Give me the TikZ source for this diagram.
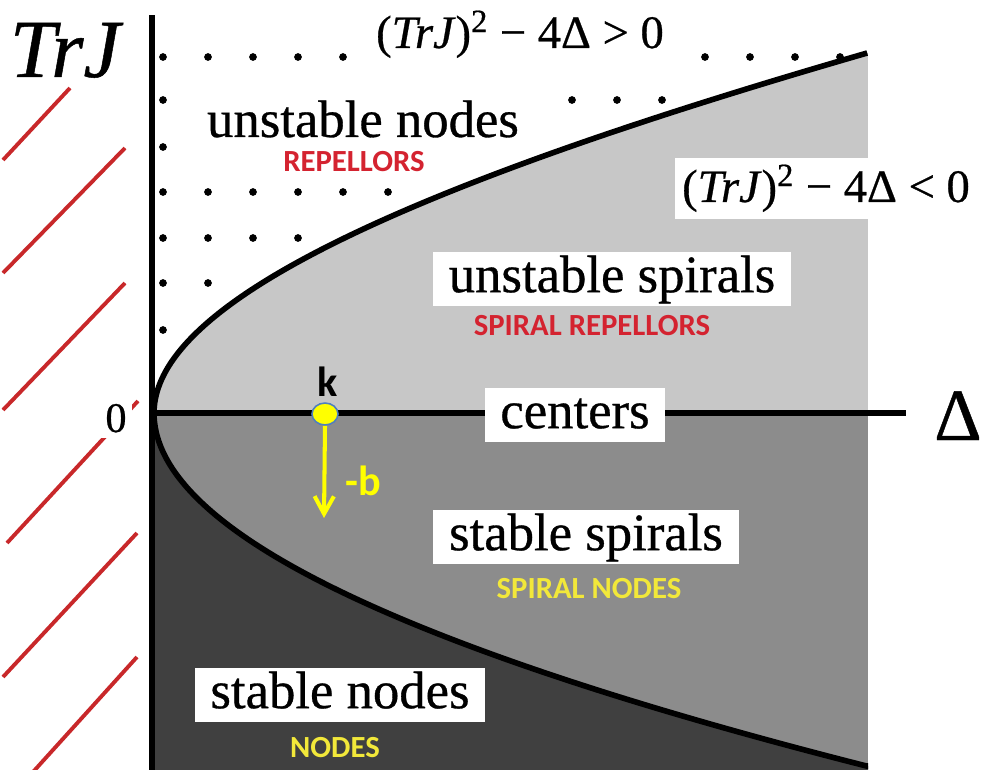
\documentclass[tikz,border=0pt]{standalone}
\usepackage{fontspec}
\setmainfont{Liberation Serif}[FakeBold=0.6]
\newfontfamily\capsfont{Carlito}
\usetikzlibrary{arrows.meta,shapes.geometric}
\definecolor{hatchred}{HTML}{C8282A}
\definecolor{repred}{HTML}{D42330}
\definecolor{nodeyellow}{HTML}{F2E83A}
\definecolor{kyellow}{HTML}{FFFF00}
\definecolor{kblue}{HTML}{4F7FBF}
\newcommand{\trjsq}{(\textit{TrJ})\textsuperscript{2}}
\tikzset{
  regionlbl/.style={fill=white,inner xsep=9pt,inner ysep=1pt,text height=21.6pt,text depth=6.6pt,font=\fontsize{30}{30}\selectfont},
  formlbl/.style={fill=white,inner sep=4pt,anchor=base,font=\fontsize{26.5}{26.5}\selectfont},
  capslbl/.style={anchor=base,inner sep=0pt,text height=11.5pt,text depth=0pt,font=\capsfont\bfseries\fontsize{17.5}{17.5}\selectfont},
  replbl/.style={capslbl,text=repred},
  attlbl/.style={capslbl,text=nodeyellow},
  klbl/.style={anchor=base,inner sep=0pt,font=\capsfont\bfseries\fontsize{24}{24}\selectfont},
  axisline/.style={line width=3.6pt,black},
  branch/.style={line width=3.2pt,black,line join=round},
  hatchline/.style={line width=2.2pt,hatchred},
  kdot/.style={ellipse,draw=kblue,fill=kyellow,line width=0.9pt,inner sep=0pt,minimum width=14.8pt,minimum height=12.5pt},
  karrow/.style={-{Straight Barb[length=10pt,width=11pt]},line width=2.3pt,kyellow},
}
\begin{document}
\begin{tikzpicture}[x=0.02cm,y=-0.02cm]
  \useasboundingbox (0,0) rectangle (981,770);
  \fill[black!45] (152,413) rectangle (868,770);
  \fill[black!22] (152,53) rectangle (868,413);
  \fill[white] plot[variable=\t,domain=0:360,samples=73,smooth] ({154+69*(\t/100)^2-3.88*(\t/100)^3},{413-\t}) -- (868,30) -- (152,30) -- cycle;
  \fill[black!75] plot[variable=\t,domain=0:353,samples=72,smooth] ({154+60*(\t/100)^2-0.8*(\t/100)^3},{413+\t}) -- (868,766) -- (868,770) -- (152,770) -- cycle;
  \foreach \x in {163,208,253,298,343,705,750,795,840} \fill (\x,57) circle[radius=2.2pt];
  \foreach \x in {163,572,617,662} \fill (\x,100) circle[radius=2.2pt];
  \fill (163,147) circle[radius=2.2pt];
  \foreach \x in {163,208,253,298,343,388} \fill (\x,192) circle[radius=2.2pt];
  \foreach \x in {163,208,253,298} \fill (\x,238) circle[radius=2.2pt];
  \foreach \x in {163,208} \fill (\x,283) circle[radius=2.2pt];
  \fill (163,330) circle[radius=2.2pt];
  \draw[branch] plot[variable=\t,domain=0:360,samples=73,smooth] ({154+69*(\t/100)^2-3.88*(\t/100)^3},{413-\t});
  \draw[branch] plot[variable=\t,domain=0:353,samples=72,smooth] ({154+60*(\t/100)^2-0.8*(\t/100)^3},{413+\t}) -- (868,766);
  \coordinate (nO) at (152,413);
  \coordinate (nTop) at (152,15);
  \coordinate (nBot) at (152,770);
  \coordinate (nRight) at (906,413);
  \draw[axisline] (nBot) -- (nTop);
  \draw[axisline] (nO) -- (nRight);
  \foreach \xa/\ya/\xb/\yb in {3/160/70/88, 3/273/125/148, 3/410/125/283, 7/543/138/401, 3/677/137/533, 33/772/137/657}
    \draw[hatchline] (\xa,\ya) -- (\xb,\yb);
  \node[anchor=base,inner sep=0pt,font=\fontsize{47}{47}\selectfont\itshape] (nTrJ) at (65,77) {TrJ};
  \node[anchor=base,inner sep=3pt,fill=white,font=\fontsize{24}{24}\selectfont] (nZero) at (116,432) {0};
  \node[anchor=base,inner sep=0pt,font=\fontsize{42}{42}\selectfont] (nDelta) at (958,440) {Δ};
  \node[formlbl] (nPos) at (520,48) {\trjsq\ − 4Δ > 0};
  \node[formlbl] (nNeg) at (826,202) {\trjsq\ − 4Δ < 0};
  \node[regionlbl,text depth=0pt,inner ysep=0pt,anchor=base] (nUnstNodes) at (363,137) {unstable nodes};
  \node[replbl] (nRep) at (354,172) {REPELLORS};
  \node[regionlbl] (nUnstSpir) at (612,279) {unstable spirals};
  \node[replbl] (nSpRep) at (592,336) {SPIRAL REPELLORS};
  \node[regionlbl] (nCenters) at (575,415) {centers};
  \node[regionlbl] (nStSpir) at (586,537) {stable spirals};
  \node[attlbl] (nSpNodes) at (589,598) {SPIRAL NODES};
  \node[regionlbl] (nStNodes) at (340,695) {stable nodes};
  \node[attlbl] (nNodes) at (335,757) {NODES};
  \node[kdot] (nk) at (325,414) {};
  \node[klbl] (nkLbl) at (328,397) {k};
  \coordinate (nkEnd) at (324,518);
  \draw[karrow] (nk.south) -- (nkEnd);
  \node[klbl,text=kyellow] (nb) at (363,495) {-b};
\end{tikzpicture}
\end{document}
